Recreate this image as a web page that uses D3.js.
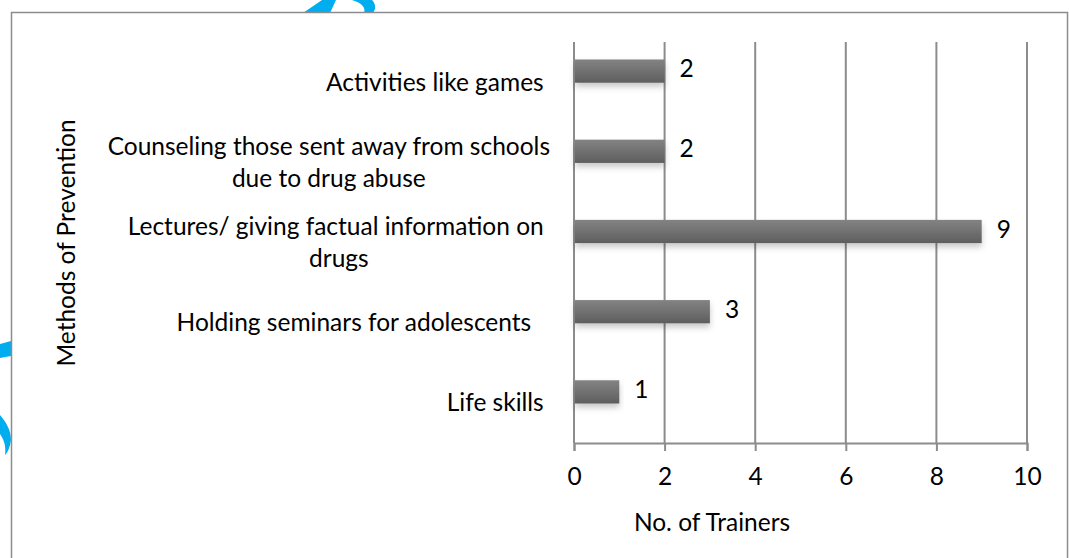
<!DOCTYPE html>
<html>
<head>
<meta charset="utf-8">
<script src="https://cdnjs.cloudflare.com/ajax/libs/d3/7.8.5/d3.min.js"></script>
<style>
  body { margin: 0; background: #fff; }
  text { font-family: Lato, "Open Sans", sans-serif; fill: #000; }
</style>
</head>
<body>
<div id="chart"></div>
<script>
// categories top to bottom, labels split in lines like the original
var categories = [
  "Activities like games",
  "Counseling those sent away from schools",
  "Lectures/ giving factual information on drugs",
  "Holding seminars for adolescents",
  "Life skills"
];
var labelLines = [
  ["Activities like games "],
  ["Counseling those sent away from schools", "due to drug abuse"],
  ["Lectures/ giving factual information on ", "drugs"],
  ["Holding seminars for adolescents   "],
  ["Life skills "]
];
var trainers = [2, 2, 9, 3, 1];
var xTicks = [0, 2, 4, 6, 8, 10];

var width = 1069, height = 558;
var fs = 24.5;

var svg = d3.select("#chart")
  .append("svg")
  .attr("width", width)
  .attr("height", height);

var defs = svg.append("defs");
var grad = defs.append("linearGradient")
  .attr("id", "barGrad")
  .attr("x1", 0).attr("y1", 0).attr("x2", 0).attr("y2", 1);
grad.append("stop").attr("offset", "0%").attr("stop-color", "#838383");
grad.append("stop").attr("offset", "100%").attr("stop-color", "#5e5e5e");

var shadow = defs.append("filter")
  .attr("id", "shadow")
  .attr("x", "-10%").attr("y", "-20%")
  .attr("width", "120%").attr("height", "180%");
shadow.append("feDropShadow")
  .attr("dx", 0).attr("dy", 4)
  .attr("stdDeviation", 3)
  .attr("flood-color", "#000")
  .attr("flood-opacity", 0.22);

// stray blue marks around the frame (scan artefact)
var blue = svg.append("g").attr("fill", "#00aeef");
blue.append("path").attr("d", "M303,13 L322,0 L336,0 L330,13 Z");
blue.append("path").attr("d", "M352,0 L372,0 C376,4 376,9 373,13 L364,13 C366,8 362,3 352,0 Z");
blue.append("path").attr("d", "M0,344 L11,341 L11,356 L0,358 Z");
blue.append("path").attr("d", "M0,415 C6,422 11,430 11,440 C10,447 8,452 5,455 C6,448 5,441 0,434 Z");

// chart frame
svg.append("rect")
  .attr("x", 11.5).attr("y", 12.5)
  .attr("width", 1056).attr("height", 560)
  .attr("fill", "#fff")
  .attr("stroke", "#8c8c8c")
  .attr("stroke-width", 1.5);

var x = d3.scaleLinear()
  .domain([0, 10])
  .range([574, 1027]);

var y = d3.scaleBand()
  .domain(categories)
  .range([42, 443])
  .paddingInner(0.71)
  .paddingOuter(0.355);

// vertical gridlines
svg.append("g")
  .selectAll("line")
  .data(xTicks)
  .enter().append("line")
  .attr("x1", function(d) { return x(d); })
  .attr("x2", function(d) { return x(d); })
  .attr("y1", 42)
  .attr("y2", 443)
  .attr("stroke", "#8c8c8c")
  .attr("stroke-width", 2);

// x axis
var xAxis = svg.append("g")
  .attr("transform", "translate(0,443)")
  .call(d3.axisBottom(x).tickValues(xTicks).tickSize(8).tickPadding(17).tickFormat(d3.format("d")));
xAxis.select(".domain").attr("stroke", "#8c8c8c").attr("stroke-width", 2);
xAxis.selectAll(".tick line").attr("stroke", "#8c8c8c").attr("stroke-width", 2);
xAxis.selectAll(".tick text")
  .attr("font-size", fs)
  .attr("font-family", "Lato, sans-serif")
  .attr("fill", "#000");

// bars (drawn a little above band centre, as in the original)
var barShift = -11;
svg.append("g")
  .selectAll("rect")
  .data(categories)
  .enter().append("rect")
  .attr("x", x(0) + 1)
  .attr("y", function(d) { return y(d) + barShift; })
  .attr("width", function(d, i) { return x(trainers[i]) - x(0) - 1; })
  .attr("height", y.bandwidth())
  .attr("fill", "url(#barGrad)")
  .attr("filter", "url(#shadow)");

// value labels
svg.append("g")
  .selectAll("text")
  .data(categories)
  .enter().append("text")
  .attr("x", function(d, i) { return x(trainers[i]) + 15; })
  .attr("y", function(d) { return y(d) + barShift + y.bandwidth() / 2; })
  .attr("dy", "0.25em")
  .attr("font-size", fs)
  .text(function(d, i) { return trainers[i]; });

// category labels, block right-aligned, lines centred
var lineH = 31.5;
var labelRight = 550;
var labels = svg.append("g")
  .selectAll("g")
  .data(categories)
  .enter().append("g");
labels.each(function(d, i) {
  var g = d3.select(this);
  var lines = labelLines[i];
  var cy = y(d) + y.bandwidth() / 2;
  var t = g.append("text")
    .attr("font-size", fs)
    .attr("text-anchor", "middle")
    .style("white-space", "pre");
  var w = 0;
  lines.forEach(function(s, k) {
    var sp = t.append("tspan")
      .attr("x", 0)
      .attr("y", cy + (k - (lines.length - 1) / 2) * lineH)
      .attr("dy", "0.35em")
      .text(s);
    w = Math.max(w, sp.node().getComputedTextLength());
  });
  t.attr("transform", "translate(" + (labelRight - w / 2) + ",0)");
});

// axis titles
svg.append("text")
  .attr("x", 712)
  .attr("y", 522)
  .attr("dy", "0.35em")
  .attr("text-anchor", "middle")
  .attr("font-size", fs)
  .text("No. of Trainers");

svg.append("text")
  .attr("transform", "translate(66,243) rotate(-90)")
  .attr("dy", "0.35em")
  .attr("text-anchor", "middle")
  .attr("font-size", fs)
  .text("Methods of Prevention");
</script>
</body>
</html>
